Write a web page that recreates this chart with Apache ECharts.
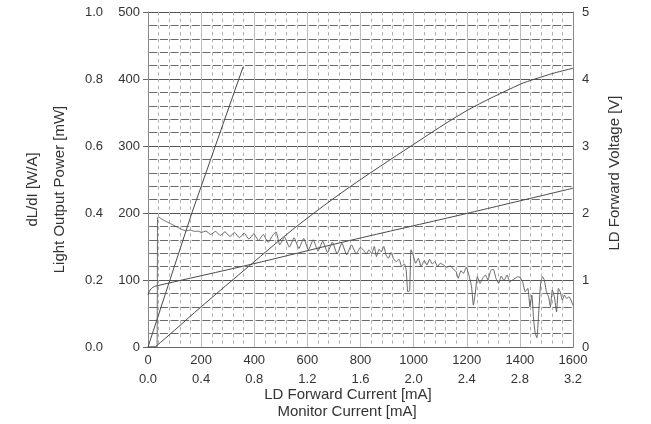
<!DOCTYPE html>
<html>
<head>
<meta charset="utf-8">
<script src="https://cdn.jsdelivr.net/npm/echarts@6/dist/echarts.min.js"></script>
<style>
html,body{margin:0;padding:0;background:#fff;}
#chart{width:651px;height:424px;}
</style>
</head>
<body>
<div id="chart"></div>
<script>
// ---- Data ----
// Light output power [mW] vs LD forward current [mA]
const liCurrent = [0, 26, 30, 100, 200, 384, 550, 742, 998, 1201, 1400, 1457, 1530, 1600];
const liPower   = [0, 0, 1, 25, 60, 122, 177, 234, 302, 353, 392, 400, 409, 416];

// Light output power [mW] vs monitor current [mA]
const monCurrent = [0, 0.012, 0.33, 0.716];
const monPower   = [0, 0, 200, 418];

// LD forward voltage [V] vs LD forward current [mA]
const vCurrent = [0, 8, 18, 30, 384, 760, 1175, 1600];
const vVoltage = [0.78, 0.85, 0.89, 0.91, 1.23, 1.59, 1.97, 2.37];

// dL/dI [W/A] vs LD forward current [mA]
const dCurrent = [0, 28, 34, 36, 40, 55, 70, 85, 100, 115, 130, 145, 160, 175, 190,
  200, 218, 236, 254, 272, 290, 308, 326, 344, 362, 380, 398, 416, 434, 452, 470, 482, 496,
  514, 532, 550, 568, 586, 604, 622, 640, 658, 676, 694, 712, 730, 748, 766, 784, 800,
  812, 822, 832, 842, 852, 860, 870, 878, 888, 896, 905, 915, 925, 935,
  945, 955, 965, 972, 978, 985, 990, 998, 1008, 1018, 1028, 1040, 1050, 1060, 1070, 1080, 1090, 1100, 1112, 1125,
  1138, 1150, 1160, 1168, 1178, 1188, 1198, 1208, 1218, 1225, 1232, 1240, 1250, 1260, 1270, 1280, 1290, 1300, 1310, 1320,
  1330, 1340, 1352, 1362, 1372, 1382, 1392, 1400, 1410, 1420, 1430, 1438, 1445, 1452, 1458, 1464, 1470, 1478, 1485, 1492,
  1500, 1508, 1515, 1522, 1530, 1538, 1545, 1552, 1560, 1568, 1576, 1585, 1600];
const dSlope = [0, 0, 0, 0.386, 0.388, 0.380, 0.374, 0.368, 0.362, 0.356, 0.350, 0.347, 0.349, 0.345, 0.346,
  0.342, 0.346, 0.336, 0.345, 0.333, 0.344, 0.330, 0.342, 0.326, 0.340, 0.322, 0.338, 0.318, 0.336, 0.312, 0.334, 0.344, 0.305,
  0.328, 0.298, 0.326, 0.294, 0.324, 0.290, 0.320, 0.286, 0.316, 0.282, 0.313, 0.278, 0.310, 0.275, 0.305, 0.278, 0.298,
  0.288, 0.278, 0.290, 0.279, 0.300, 0.270, 0.292, 0.284, 0.300, 0.275, 0.265, 0.282, 0.262, 0.255,
  0.262, 0.240, 0.248, 0.230, 0.165, 0.168, 0.290, 0.275, 0.250, 0.265, 0.240, 0.258, 0.245, 0.262, 0.248, 0.255, 0.240, 0.250, 0.245, 0.238,
  0.242, 0.232, 0.225, 0.205, 0.228, 0.220, 0.238, 0.215, 0.180, 0.125, 0.160, 0.210, 0.190, 0.205, 0.215, 0.200, 0.228, 0.232, 0.205, 0.190,
  0.212, 0.198, 0.215, 0.195, 0.200, 0.205, 0.210, 0.208, 0.195, 0.165, 0.175, 0.120, 0.155, 0.080, 0.040, 0.028, 0.090, 0.190, 0.210, 0.200,
  0.165, 0.150, 0.120, 0.170, 0.150, 0.105, 0.175, 0.165, 0.140, 0.155, 0.145, 0.150, 0.125];

// Axis ranges / tick steps
const currentAxis = [0, 1600, 200];   // LD forward current [mA]
const monitorAxis = [0, 3.2, 0.4];    // monitor current [mA]
const powerAxis   = [0, 500, 100];    // light output power [mW]
const slopeAxis   = [0, 1.0, 0.2];    // dL/dI [W/A]
const voltAxis    = [0, 5, 1];        // LD forward voltage [V]

const zip = (xs, ys) => xs.map((x, i) => [x, ys[i]]);

const FONT = 'Liberation Sans, Arial, sans-serif';
const TXT = '#333';
const LINE = '#4a4a4a';

const chart = echarts.init(document.getElementById('chart'), null, {renderer: 'canvas'});
chart.setOption({
  animation: false,
  backgroundColor: '#fff',
  textStyle: {fontFamily: FONT},
  grid: {left: 148, right: 78, top: 12, bottom: 77, containLabel: false},
  xAxis: [
    {
      type: 'value', position: 'bottom',
      min: currentAxis[0], max: currentAxis[1], interval: currentAxis[2],
      name: 'LD Forward Current [mA]', nameLocation: 'middle', nameGap: 40,
      nameTextStyle: {fontSize: 15, color: TXT, fontFamily: FONT, padding: [0, 25, 0, 0]},
      axisLine: {show: true, lineStyle: {color: '#666', width: 1}},
      axisTick: {show: false},
      axisLabel: {fontSize: 13, color: TXT, margin: 7, fontFamily: FONT, formatter: v => String(v)},
      splitLine: {show: true, lineStyle: {color: '#bdbdbd', width: 1}},
      minorTick: {show: false, splitNumber: 5},
      minorSplitLine: {show: true, lineStyle: {color: '#b0b0b0', width: 1, type: [3.4, 3.3]}}
    },
    {
      type: 'value', position: 'bottom',
      min: monitorAxis[0], max: monitorAxis[1], interval: monitorAxis[2],
      name: 'Monitor Current [mA]', nameLocation: 'middle', nameGap: 57,
      nameTextStyle: {fontSize: 15, color: TXT, fontFamily: FONT, padding: [0, 27, 0, 0]},
      axisLine: {show: false}, axisTick: {show: false},
      axisLabel: {fontSize: 13, color: TXT, margin: 26, fontFamily: FONT,
        formatter: v => v.toFixed(1)},
      splitLine: {show: false}
    }
  ],
  yAxis: [
    {
      type: 'value', position: 'left',
      min: powerAxis[0], max: powerAxis[1], interval: powerAxis[2],
      name: 'Light Output Power [mW]', nameLocation: 'middle', nameGap: 81,
      nameTextStyle: {fontSize: 15, color: TXT, fontFamily: FONT, padding: [0, 20, 0, 0]},
      axisLine: {show: true, lineStyle: {color: '#888', width: 1}},
      axisTick: {show: true, length: 5, inside: false, lineStyle: {color: '#666'}},
      axisLabel: {fontSize: 13, color: TXT, margin: 8, fontFamily: FONT},
      splitLine: {show: true, lineStyle: {color: '#555', width: 1}},
      minorTick: {show: false, splitNumber: 5},
      minorSplitLine: {show: true, lineStyle: {color: '#6a6a6a', width: 1, type: [8.1, 2.525], dashOffset: 9.4}}
    },
    {
      type: 'value', position: 'left',
      min: slopeAxis[0], max: slopeAxis[1], interval: slopeAxis[2],
      name: 'dL/dI [W/A]', nameLocation: 'middle', nameGap: 108,
      nameTextStyle: {fontSize: 15, color: TXT, fontFamily: FONT, padding: [0, 20, 0, 0]},
      axisLine: {show: false}, axisTick: {show: false},
      axisLabel: {fontSize: 13, color: TXT, margin: 45, fontFamily: FONT,
        formatter: v => v.toFixed(1)},
      splitLine: {show: false}
    },
    {
      type: 'value', position: 'right',
      min: voltAxis[0], max: voltAxis[1], interval: voltAxis[2],
      name: 'LD Forward Voltage [V]', nameLocation: 'middle', nameGap: 34,
      nameTextStyle: {fontSize: 15, color: TXT, fontFamily: FONT, padding: [0, 0, 0, 13]},
      axisLine: {show: true, lineStyle: {color: '#888', width: 1}},
      axisTick: {show: false},
      axisLabel: {fontSize: 13, color: TXT, margin: 9, fontFamily: FONT},
      splitLine: {show: false}
    }
  ],
  series: [
    {
      type: 'line', name: 'L-I', xAxisIndex: 0, yAxisIndex: 0,
      data: zip(liCurrent, liPower), symbol: 'none', smooth: 0.3,
      lineStyle: {color: LINE, width: 1}
    },
    {
      type: 'line', name: 'L-Im', xAxisIndex: 1, yAxisIndex: 0,
      data: zip(monCurrent, monPower), symbol: 'none',
      lineStyle: {color: LINE, width: 1}
    },
    {
      type: 'line', name: 'V-I', xAxisIndex: 0, yAxisIndex: 2,
      data: zip(vCurrent, vVoltage), symbol: 'none', smooth: 0.3,
      lineStyle: {color: LINE, width: 1}
    },
    {
      type: 'line', name: 'dL/dI', xAxisIndex: 0, yAxisIndex: 1,
      data: zip(dCurrent, dSlope), symbol: 'none', smooth: 0.15,
      lineStyle: {color: '#555', width: 0.9}
    }
  ]
});
</script>
</body>
</html>
